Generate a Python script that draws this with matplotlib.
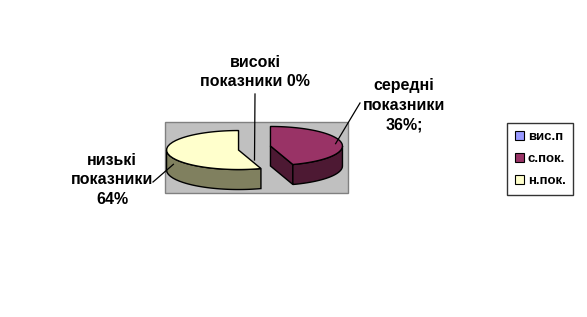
import numpy as np
import matplotlib.pyplot as plt
from matplotlib.patches import Polygon, Rectangle, Patch

# дані
categories = ['вис.п', 'с.пок.', 'н.пок.']
values = [0, 36, 64]
labels = ['високі\nпоказники 0%', 'середні\nпоказники\n36%;', 'низькі\nпоказники\n64%']
top_colors = ['#9999ff', '#993366', '#ffffcc']
side_colors = ['#4d4d80', '#4d1933', '#80805f']

# геометрія псевдо-3D кругової діаграми (в пікселях)
cx, cy = 254.5, 148.0
rx, ry = 72.0, 19.5
depth = 20.0
explode = 0.245

fnt = dict(family=['Liberation Sans', 'DejaVu Sans'], weight='bold')

fig = plt.figure(figsize=(5.87, 3.17), dpi=100)
ax = fig.add_axes([0, 0, 1, 1])
ax.set_xlim(0, 587)
ax.set_ylim(317, 0)
ax.axis('off')

# сіра область побудови
ax.add_patch(Rectangle((165, 122), 183, 71, facecolor='#c0c0c0', edgecolor='#808080', lw=1))


def pt(c, t, dz=0.0):
    # кут відкладається в площині екрана, точка лежить на еліпсі
    s, co = np.sin(t), np.cos(t)
    r = 1.0 / np.sqrt((s / rx) ** 2 + (co / ry) ** 2)
    return c[0] + r * s, c[1] - r * co + dz


total = sum(values)
start = 0.0
anchors = []
for i, v in enumerate(values):
    t1 = start
    t2 = start + 2 * np.pi * v / total
    start = t2
    tm = (t1 + t2) / 2
    off = (explode * rx * np.sin(tm), -explode * ry * np.cos(tm)) if v > 0 else (0, 0)
    c = (cx + off[0], cy + off[1])
    anchors.append((c, tm))
    if v == 0:
        continue
    # бічні грані (розрізи)
    for phi, sgn in ((t1, -1), (t2, 1)):
        if sgn * np.sin(phi) > 1e-6:
            p = pt(c, phi)
            face = [c, p, (p[0], p[1] + depth), (c[0], c[1] + depth)]
            ax.add_patch(Polygon(face, closed=True, facecolor=side_colors[i], edgecolor='black', lw=1))
    # зовнішня бічна поверхня (тільки передня частина)
    a = max(t1, np.pi / 2)
    b = min(t2, 3 * np.pi / 2)
    if b > a:
        tt = np.linspace(a, b, 80)
        upper = [pt(c, t) for t in tt]
        lower = [pt(c, t, depth) for t in tt[::-1]]
        ax.add_patch(Polygon(upper + lower, closed=True, facecolor=side_colors[i], edgecolor='black', lw=1))
    # верхня грань
    tt = np.linspace(t1, t2, 120)
    top = [c] + [pt(c, t) for t in tt]
    ax.add_patch(Polygon(top, closed=True, facecolor=top_colors[i], edgecolor='black', lw=1))

# підписи з виносками
text_pos = [(255, 72), (404, 105), (112, 180)]
line_from = [(255, 94), (360, 103), (153, 182)]
for i, lab in enumerate(labels):
    ax.text(text_pos[i][0], text_pos[i][1], lab, ha='center', va='center',
            fontsize=11.5, linespacing=1.4, **fnt)
    c, tm = anchors[i]
    if values[i] == 0:
        end = (c[0], c[1] + depth * 0.6)
    else:
        end = (c[0] + rx * np.sin(tm), c[1] - ry * np.cos(tm) + 6)
    ax.plot([line_from[i][0], end[0]], [line_from[i][1], end[1]], color='black', lw=0.9)

handles = [Patch(facecolor=top_colors[i], edgecolor='black', lw=0.8) for i in range(len(categories))]
leg = ax.legend(handles, categories, loc='center', bbox_to_anchor=(0.92, 0.498),
                bbox_transform=fig.transFigure, frameon=True, fancybox=False,
                handlelength=0.7, handleheight=0.7, handletextpad=0.3,
                labelspacing=0.75, borderpad=0.6, prop=dict(family='Liberation Sans', weight='bold', size=9.5))
leg.get_frame().set_edgecolor('black')
leg.get_frame().set_linewidth(1)

fig.savefig('out.png', dpi=100)
